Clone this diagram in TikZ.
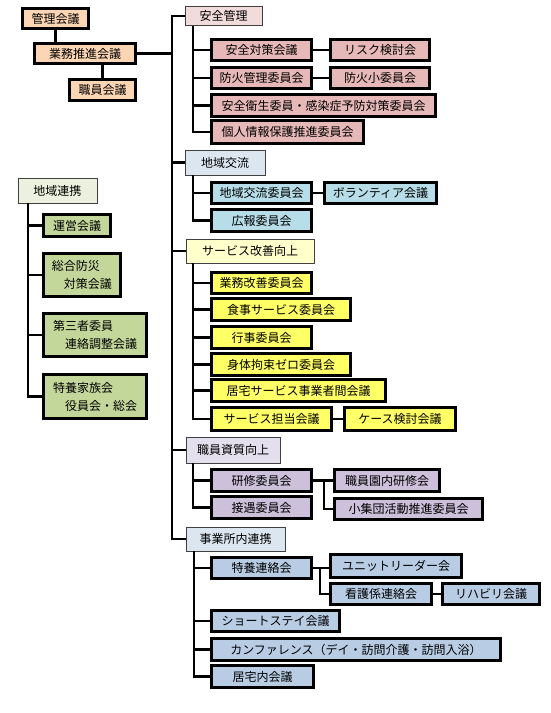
\documentclass[tikz,border=0pt]{standalone}
\usepackage{fontspec}
\newfontfamily\jpfont{Noto Sans CJK JP}
\usetikzlibrary{calc}
\definecolor{peach}{HTML}{FCD5B4}
\definecolor{rosecat}{HTML}{F2DCDB}
\definecolor{rosebox}{HTML}{E6B8B7}
\definecolor{bluecat}{HTML}{DCE6F1}
\definecolor{aquabox}{HTML}{B7DEE8}
\definecolor{yelcat}{HTML}{FFFFCC}
\definecolor{yelbox}{HTML}{FFFF66}
\definecolor{lilcat}{HTML}{E4DFEC}
\definecolor{lilbox}{HTML}{CCC0DA}
\definecolor{bluebox}{HTML}{B8CCE4}
\definecolor{grncat}{HTML}{EBF1DE}
\definecolor{grnbox}{HTML}{C4D79B}

\begin{document}
\begin{tikzpicture}[x=1pt,y=-1pt,
  cat/.style={draw=black!75,line width=0.9pt,inner sep=0pt,font=\jpfont\fontsize{12}{14}\selectfont},
  sub/.style={draw=black,line width=2.6pt,inner sep=0pt,minimum height=21.5pt,font=\jpfont\fontsize{12}{14}\selectfont},
  conn/.style={line width=2.2pt},
  stub/.style={line width=2.6pt}]
\useasboundingbox[fill=white] (0,0) rectangle (550,713);

% top left
\node[sub,fill=peach,minimum width=66pt,minimum height=20pt] (kanri) at (55.5,18.5) {管理会議};
\node[sub,fill=peach,minimum width=101pt,minimum height=20pt] (gyomu) at (85,53.5) {業務推進会議};
\node[sub,fill=peach,minimum width=66pt] (shokuin) at (102.5,90) {職員会議};
\draw[conn] (kanri.south) -- (kanri.south |- gyomu.north);
\draw[conn] (shokuin.north) -- (shokuin.north |- gyomu.south);

% categories
\node[cat,fill=rosecat,minimum width=77pt,minimum height=19pt] (anzen) at (223.5,16) {安全管理};
\node[cat,fill=bluecat,minimum width=80pt,minimum height=25pt] (chiiki) at (225,162.5) {地域交流};
\node[cat,fill=yelcat,minimum width=128pt,minimum height=24pt] (service) at (250,251) {サービス改善向上};
\node[cat,fill=lilcat,minimum width=94pt,minimum height=26pt] (shishitsu) at (233,450) {職員資質向上};
\node[cat,fill=bluecat,minimum width=99pt,minimum height=24pt] (jigyo) at (235.5,539) {事業所内連携};

\coordinate (trunk) at (172,0);
\draw[conn] (gyomu.east) -- (gyomu.east -| trunk);
\draw[conn] (anzen.west) -| (trunk |- jigyo.west) -- (jigyo.west);
\foreach \c in {chiiki,service,shishitsu}
  \draw[conn] (trunk |- \c.west) -- (\c.west);

% anzen
\node[sub,fill=rosebox,minimum width=100pt] (taisaku) at (261.5,50) {安全対策会議};
\node[sub,fill=rosebox,minimum width=99pt] (risk) at (380,50) {リスク検討会};
\node[sub,fill=rosebox,minimum width=100pt] (boka) at (261.5,78) {防火管理委員会};
\node[sub,fill=rosebox,minimum width=99pt] (bokasho) at (380,78) {防火小委員会};
\node[sub,fill=rosebox,minimum width=224pt] (eisei) at (323.5,105.5) {安全衛生委員・感染症予防対策委員会};
\node[sub,fill=rosebox,minimum width=152pt,minimum height=22.5pt] (kojin) at (287.5,132) {個人情報保護推進委員会};
\coordinate (b1) at (193,0);
\draw[conn] (b1 |- anzen.south) |- (kojin.west);
\foreach \c in {taisaku,boka,eisei}
  \draw[stub] (b1 |- \c.west) -- (\c.west);
\draw[conn] (taisaku.east) -- (risk.west);
\draw[conn] (boka.east) -- (bokasho.west);

% chiiki
\node[sub,fill=aquabox,minimum width=100pt] (koryu) at (261.5,193) {地域交流委員会};
\node[sub,fill=aquabox,minimum width=112pt] (volunteer) at (380.5,193) {ボランティア会議};
\node[sub,fill=aquabox,minimum width=100pt,minimum height=22.5pt] (koho) at (261.5,220.5) {広報委員会};
\draw[conn] (b1 |- chiiki.south) |- (koho.west);
\draw[stub] (b1 |- koryu.west) -- (koryu.west);
\draw[conn] (koryu.east) -- (volunteer.west);

% service
\node[sub,fill=yelbox,minimum width=100pt] (kaizen) at (261.5,283) {業務改善委員会};
\node[sub,fill=yelbox,minimum width=139pt,minimum height=22.5pt] (shokuji) at (281,309.5) {食事サービス委員会};
\node[sub,fill=yelbox,minimum width=100pt,minimum height=22.5pt] (gyoji) at (261.5,337.5) {行事委員会};
\node[sub,fill=yelbox,minimum width=139pt,minimum height=22.5pt] (kosoku) at (281,364.5) {身体拘束ゼロ委員会};
\node[sub,fill=yelbox,minimum width=174pt,minimum height=22.5pt] (kyotaku) at (298.5,390.5) {居宅サービス事業者間会議};
\node[sub,fill=yelbox,minimum width=120pt,minimum height=23.5pt] (tanto) at (271.5,419) {サービス担当会議};
\node[sub,fill=yelbox,minimum width=111pt,minimum height=23.5pt] (case) at (400,419) {ケース検討会議};
\draw[conn] (b1 |- service.south) |- (tanto.west);
\foreach \c in {kaizen,shokuji,gyoji,kosoku,kyotaku}
  \draw[stub] (b1 |- \c.west) -- (\c.west);
\draw[conn] (tanto.east) -- (case.west);

% shishitsu
\node[sub,fill=lilbox,minimum width=100pt,minimum height=22.5pt] (kenshu) at (261.5,480.5) {研修委員会};
\node[sub,fill=lilbox,minimum width=100pt,minimum height=22.5pt] (setsugu) at (261.5,507.5) {接遇委員会};
\node[sub,fill=lilbox,minimum width=105pt,minimum height=22.5pt] (ennai) at (387,480.5) {職員園内研修会};
\node[sub,fill=lilbox,minimum width=148pt] (shudan) at (408.5,509) {小集団活動推進委員会};
\draw[conn] (b1 |- shishitsu.south) |- (setsugu.west);
\draw[stub] (b1 |- kenshu.west) -- (kenshu.west);
\coordinate (kj) at (324,0);
\draw[conn] (kenshu.east) -- (ennai.west);
\draw[conn] (kj |- kenshu.east) |- (shudan.west);

% jigyo
\node[sub,fill=bluebox,minimum width=100pt] (tokuyo) at (261.5,568) {特養連絡会};
\node[sub,fill=bluebox,minimum width=131pt,minimum height=23.5pt] (unit) at (396,566) {ユニットリーダー会};
\node[sub,fill=bluebox,minimum width=101pt] (kango) at (381,594) {看護係連絡会};
\node[sub,fill=bluebox,minimum width=97pt] (reha) at (491,594) {リハビリ会議};
\node[sub,fill=bluebox,minimum width=128pt] (short) at (275.5,621) {ショートステイ会議};
\node[sub,fill=bluebox,minimum width=289pt,minimum height=22.5pt] (conf) at (356,649.5) {カンファレンス（デイ・訪問介護・訪問入浴）};
\node[sub,fill=bluebox,minimum width=102pt,minimum height=22.5pt] (kyotakunai) at (262.5,676.5) {居宅内会議};
\coordinate (b2) at (194,0);
\draw[conn] (b2 |- jigyo.south) |- (kyotakunai.west);
\foreach \c in {tokuyo,short,conf}
  \draw[stub] (b2 |- \c.west) -- (\c.west);
\coordinate (tj) at (320,0);
\draw[conn] (tokuyo.east) -- (tokuyo.east -| unit.west);
\draw[conn] (tj |- tokuyo.east) |- (kango.west);
\draw[conn] (kango.east) -- (reha.west);

% renkei
\node[cat,fill=grncat,minimum width=79pt,minimum height=25pt] (renkei) at (57.5,190.5) {地域連携};
\node[sub,fill=grnbox,minimum width=67pt,minimum height=22.5pt] (unei) at (77,225.5) {運営会議};
\node[sub,fill=grnbox,minimum width=77pt,minimum height=43.5pt,align=left] (bosai) at (82,275) {総合防災\\[4pt]\hspace*{1em}対策会議};
\node[sub,fill=grnbox,minimum width=103pt,minimum height=43.5pt,align=left] (daisan) at (95,335) {第三者委員\\[4pt]\hspace*{1em}連絡調整会議};
\node[sub,fill=grnbox,minimum width=103pt,minimum height=44.5pt,align=left] (kazoku) at (95,396.5) {特養家族会\\[4pt]\hspace*{1em}役員会・総会};
\coordinate (b3) at (28,0);
\draw[conn] (b3 |- renkei.south) |- (kazoku.west);
\foreach \c in {unei,bosai,daisan}
  \draw[conn] (b3 |- \c.west) -- (\c.west);

\end{tikzpicture}
\end{document}
